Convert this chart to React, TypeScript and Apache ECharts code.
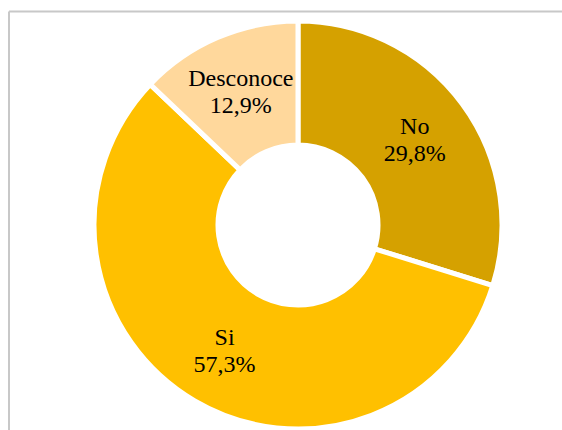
import React, { useEffect, useRef } from "react";
import * as echarts from "echarts";

const categories = ["No", "Si", "Desconoce"];
const values = [29.8, 57.3, 12.9];
const colors = ["#D5A100", "#FFC000", "#FFD89C"];

export default function App() {
  const ref = useRef<HTMLDivElement>(null);
  useEffect(() => {
    if (!ref.current) return;
    const chart = echarts.init(ref.current, null, { renderer: "svg" });
    chart.setOption({
      animation: false,
      backgroundColor: "#ffffff",
      graphic: [
        {
          type: "line",
          shape: { x1: 9, y1: 11.5, x2: 562, y2: 11.5 },
          style: { stroke: "#c8c8c8", lineWidth: 2 },
          silent: true,
        },
        {
          type: "line",
          shape: { x1: 9, y1: 11.5, x2: 9, y2: 430 },
          style: { stroke: "#c8c8c8", lineWidth: 2 },
          silent: true,
        },
      ],
      series: [
        {
          type: "pie",
          center: [298, 225],
          radius: [80, 204],
          startAngle: 90,
          clockwise: true,
          avoidLabelOverlap: false,
          itemStyle: { borderColor: "#ffffff", borderWidth: 5 },
          label: {
            show: true,
            position: "inside",
            fontFamily: "'Liberation Serif', 'Times New Roman', serif",
            fontSize: 24,
            lineHeight: 27,
            color: "#000000",
            formatter: (p: any) =>
              p.name + "\n" + Number(p.value).toFixed(1).replace(".", ",") + "%",
          },
          labelLine: { show: false },
          emphasis: { disabled: true },
          data: categories.map((c, i) => ({
            name: c,
            value: values[i],
            itemStyle: { color: colors[i] },
          })),
        },
      ],
    });
    return () => chart.dispose();
  }, []);
  return (
    <div
      ref={ref}
      style={{ position: "fixed", left: 0, top: 0, width: 562, height: 430 }}
    />
  );
}
